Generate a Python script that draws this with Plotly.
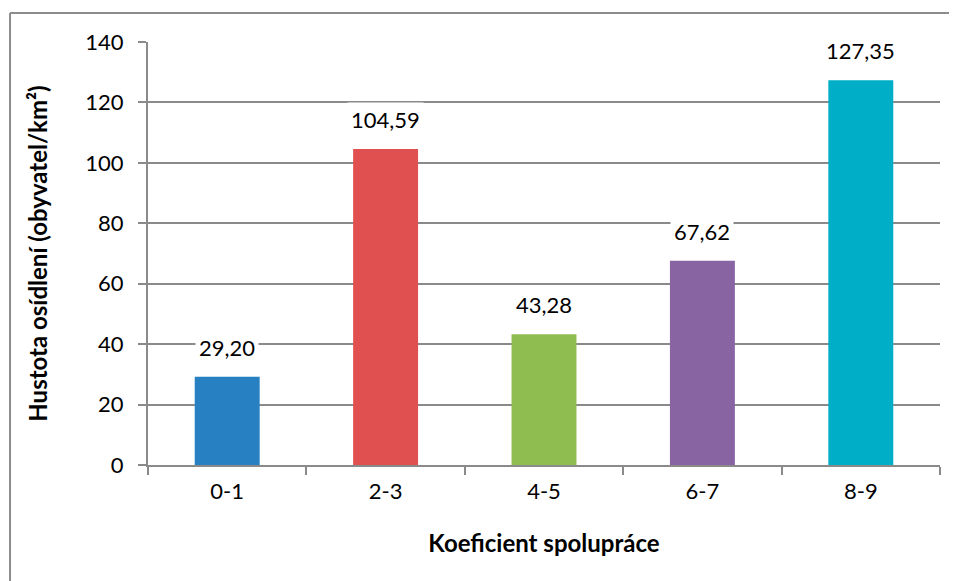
import plotly.graph_objects as go

categories = ["0-1", "2-3", "4-5", "6-7", "8-9"]
values = [29.20, 104.59, 43.28, 67.62, 127.35]
colors = ["#2680c2", "#e05050", "#8fbd50", "#8864a2", "#00aec7"]
y_ticks = [0, 20, 40, 60, 80, 100, 120, 140]

FONT = "Lato"
GRID = "#8a8a8a"
TS = 22

fig = go.Figure()
fig.add_trace(go.Bar(
    x=categories, y=values, marker_color=colors, marker_line_width=0,
    width=0.41, hoverinfo="skip",
))

for c, v in zip(categories, values):
    fig.add_annotation(
        x=c, y=v, text=f"{v:.2f}".replace(".", ","), showarrow=False,
        yanchor="bottom", yshift=12, bgcolor="white", borderpad=3,
        font=dict(family=FONT, size=TS, color="#000000"),
    )

# outer chart border (left and top edges visible)
fig.add_shape(type="line", xref="paper", yref="paper",
              x0=-0.1742, x1=-0.1742, y0=1.0686, y1=-0.4, line=dict(color="#8c8c8c", width=2))
fig.add_shape(type="line", xref="paper", yref="paper",
              x0=-0.1742, x1=1.1, y0=1.0686, y1=1.0686, line=dict(color="#8c8c8c", width=2))

fig.update_layout(
    width=957, height=581,
    margin=dict(l=140, r=25, t=34, b=124),
    paper_bgcolor="white", plot_bgcolor="white",
    showlegend=False,
    font=dict(family=FONT, size=TS, color="#000000"),
    xaxis=dict(
        type="category", tickson="boundaries", ticks="outside", ticklen=8,
        tickcolor=GRID, tickwidth=2, showline=True, linecolor=GRID, linewidth=2,
        showgrid=False, tickfont=dict(size=TS), ticklabelstandoff=6,
        title=dict(text="<b>Koeficient spolupráce</b>", font=dict(size=24), standoff=32),
    ),
    yaxis=dict(
        range=[0, 140], tickvals=y_ticks, ticks="outside", ticklen=8,
        tickcolor=GRID, tickwidth=2, showline=True, linecolor=GRID, linewidth=2,
        showgrid=True, gridcolor=GRID, gridwidth=2, zeroline=False,
        tickfont=dict(size=TS), ticklabelstandoff=10,
        title=dict(text="<b>Hustota osídlení (obyvatel/km²)</b>", font=dict(size=24), standoff=31),
    ),
)

fig.write_html("out.html")
